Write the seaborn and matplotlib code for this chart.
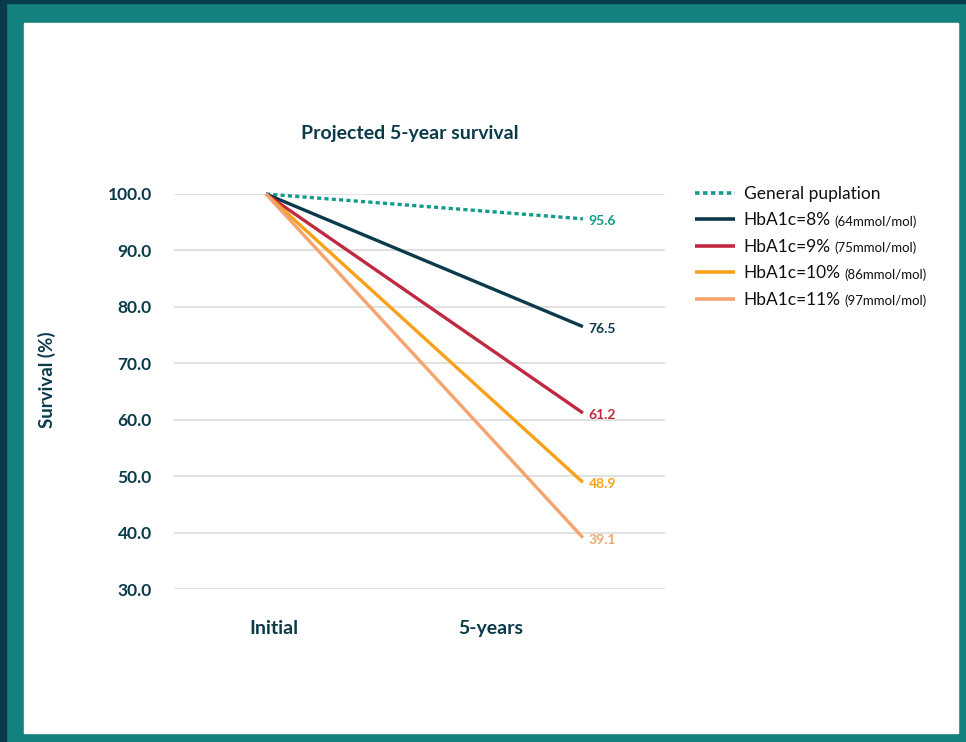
import matplotlib
matplotlib.use("Agg")
import matplotlib.pyplot as plt
from matplotlib.patches import Rectangle
import seaborn as sns
import pandas as pd

# ---- data ----
time_labels = ["Initial", "5-years"]
series_names = ["General puplation", "HbA1c=8%", "HbA1c=9%", "HbA1c=10%", "HbA1c=11%"]
series_sub = ["", "(64mmol/mol)", "(75mmol/mol)", "(86mmol/mol)", "(97mmol/mol)"]
initial_values = [100.0, 100.0, 100.0, 100.0, 100.0]
five_year_values = [95.6, 76.5, 61.2, 48.9, 39.1]
y_ticks = [30, 40, 50, 60, 70, 80, 90, 100]

colors = ["#149A8B", "#0B3B4A", "#C0293F", "#F7A11A", "#F5A46F"]
DARK = "#0B3B4A"

rows = []
for name, v0, v1 in zip(series_names, initial_values, five_year_values):
    rows.append({"t": 0, "survival": v0, "series": name})
    rows.append({"t": 1, "survival": v1, "series": name})
df = pd.DataFrame(rows)

sns.set_style("white")
plt.rcParams["font.family"] = ["Lato", "DejaVu Sans"]

W, H = 966, 742
fig = plt.figure(figsize=(W / 100, H / 100), dpi=100)
fig.patch.set_facecolor("#13827F")
# dark outer strips
fig.add_artist(Rectangle((0, 0), 6 / W, 1, transform=fig.transFigure,
                         color="#063B4A", zorder=-2))
fig.add_artist(Rectangle((0, 1 - 3 / H), 1, 3 / H, transform=fig.transFigure,
                         color="#063B4A", zorder=-2))
# white panel
fig.add_artist(Rectangle((24 / W, 1 - 733 / H), (958 - 24) / W, (733 - 23) / H,
                         transform=fig.transFigure, color="white", zorder=-1))

ax = fig.add_axes([174 / W, 1 - 589 / H, (665 - 174) / W, (589 - 194) / H])
ax.set_facecolor("none")

palette = dict(zip(series_names, colors))
dashes = {n: "" for n in series_names}
dashes[series_names[0]] = (1.25, 0.95)

sns.lineplot(data=df, x="t", y="survival", hue="series", style="series",
             palette=palette, dashes=dashes, linewidth=2.4, ax=ax,
             hue_order=series_names, style_order=series_names)
for ln in ax.get_lines():
    ln.set_clip_on(False)
    ln.set_solid_capstyle("butt")

# end labels
for name, v, c in zip(series_names, five_year_values, colors):
    ax.annotate(f"{v:.1f}", xy=(1, v), xytext=(4, -1.5), textcoords="offset points",
                va="center", ha="left", color=c, fontsize=10, fontweight="bold")

ax.set_xlim(-0.290, 1.259)
ax.set_ylim(30, 100)
ax.set_yticks(y_ticks)
ax.set_yticklabels([f"{v:.1f}" for v in y_ticks])
ax.set_xticks([0.025, 0.710])
ax.set_xticklabels(time_labels)
ax.tick_params(axis="both", length=0, colors=DARK)
ax.tick_params(axis="y", pad=16, labelsize=12.5)
ax.tick_params(axis="x", pad=22, labelsize=14)
for lab in ax.get_yticklabels() + ax.get_xticklabels():
    lab.set_fontweight("bold")
    lab.set_color(DARK)
ax.grid(axis="y", color="#D9D9D9", linewidth=1.1)
ax.grid(axis="x", visible=False)
for s in ax.spines.values():
    s.set_visible(False)
ax.set_xlabel("")
ax.set_ylabel("Survival (%)", fontsize=13.5, fontweight="bold", color=DARK)
ax.yaxis.set_label_coords((56 - 174) / 491, (589 - 380) / 395)

fig.text(410 / W, 1 - 134 / H, "Projected 5-year survival", ha="center", va="center",
         fontsize=14, fontweight="bold", color=DARK)

handles, labels = ax.get_legend_handles_labels()
leg = ax.legend(handles, labels, loc="upper left",
                bbox_to_anchor=(695 / W, 1 - 186 / H), bbox_transform=fig.transFigure,
                frameon=False, fontsize=12.5, handlelength=2.3, handletextpad=0.5,
                labelspacing=0.6, borderaxespad=0, borderpad=0)
for t in leg.get_texts():
    t.set_color("#111111")
for lh in leg.get_lines():
    lh.set_linewidth(2.6)

fig.canvas.draw()
for t, sub in zip(leg.get_texts(), series_sub):
    if not sub:
        continue
    bb = t.get_window_extent()
    fig.text((bb.x1 + 4) / W, (bb.y0 + 0.5) / H, sub, ha="left", va="bottom",
             fontsize=9.5, color="#111111")

fig.savefig("out.png", dpi=100)
